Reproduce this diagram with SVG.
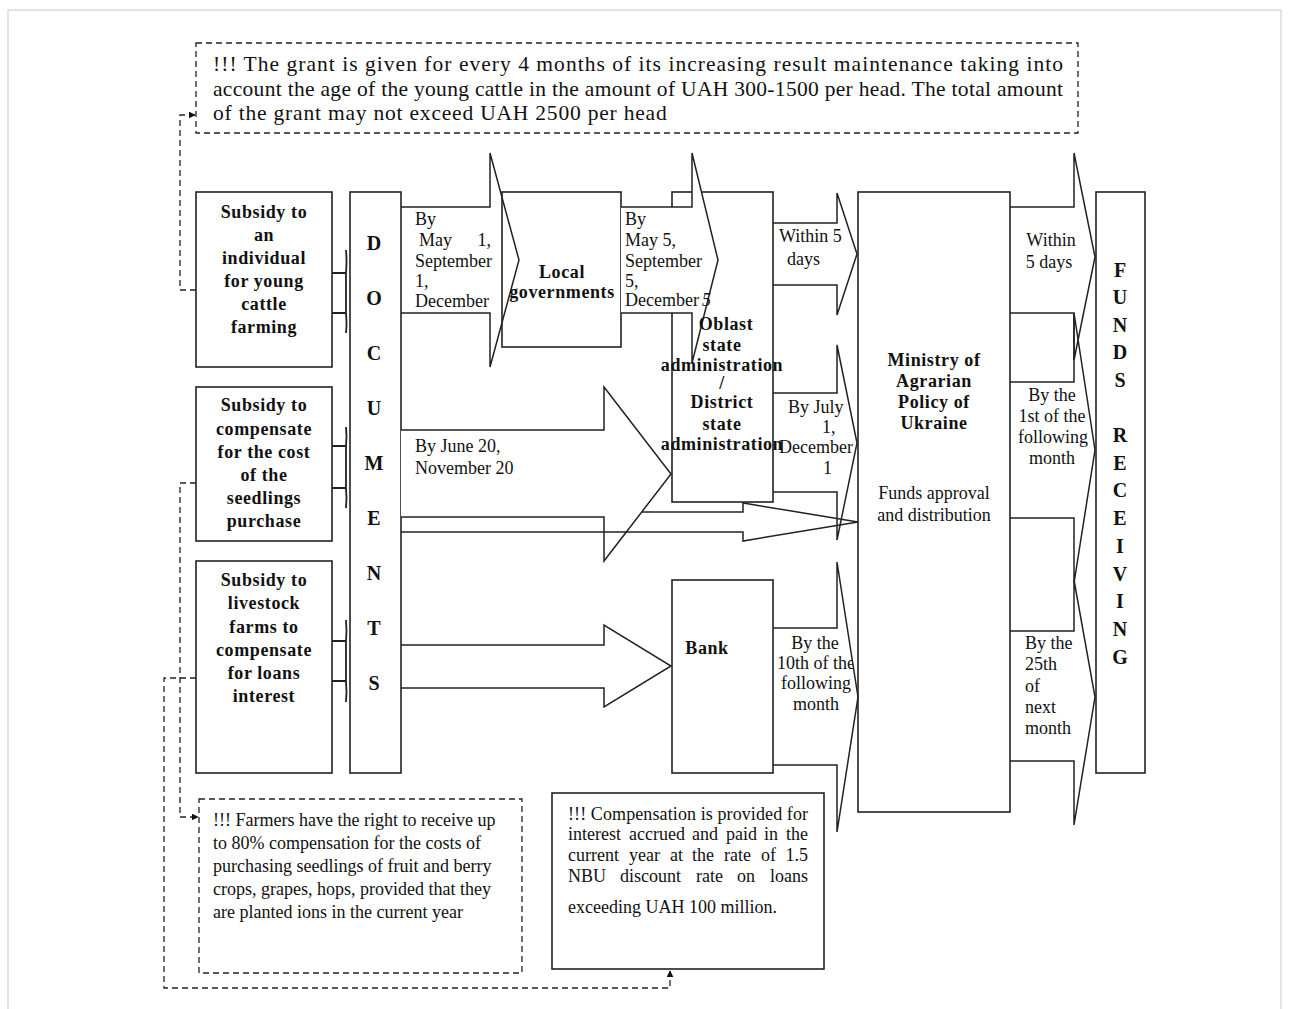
<svg xmlns="http://www.w3.org/2000/svg" width="1289" height="1009" viewBox="0 0 1289 1009">
<style>
.box{fill:#fff;stroke:#222;stroke-width:1.6}
.open{fill:none;stroke:#222;stroke-width:1.6}
.arw{fill:#fff;stroke:#222;stroke-width:1.5;stroke-linejoin:miter}
.arwn{fill:none;stroke:#222;stroke-width:1.5}
.dash{fill:none;stroke:#222;stroke-width:1.3;stroke-dasharray:6 4}
.br{fill:none;stroke:#222;stroke-width:1.8}
text{font-family:"Liberation Serif","Times New Roman",serif;fill:#111}
.b{font-weight:bold;font-size:18px;letter-spacing:0.6px;text-anchor:middle}
.r{font-size:18px}
.rc{font-size:18px;text-anchor:middle}
.big{font-weight:bold;font-size:20px;text-anchor:middle}
.note{font-size:21.5px}
.sn{font-size:18px}
</style>
<defs>
<marker id="ah" viewBox="0 0 10 10" refX="9" refY="5" markerWidth="7" markerHeight="7" markerUnits="userSpaceOnUse" orient="auto">
<path d="M0,0 L10,5 L0,10 z" fill="#111"/>
</marker>
<clipPath id="clipMid"><rect x="770" y="380" width="83" height="340"/></clipPath>
</defs>
<rect x="8" y="10" width="1273" height="1010" fill="none" stroke="#dcdcdc" stroke-width="1.5"/>

<g id="connectors">
<path class="arw" d="M401,207 H490 V153 L519,260 L490,367 V313 H401"/>
<path class="arw" d="M401,645 H604 V625 L671,666 L604,707 V688 H401"/>
<path class="arwn" d="M773,223 H837 V193 L857,254 L837,315 V285 H773"/>
<path class="arwn" d="M773,393 H837 V345 L857,443 L837,540 V492 H773"/>
<path class="arwn" d="M773,628 H837 V562 L858,697 L837,832 V765 H773"/>
<path class="arwn" d="M1010,207 H1074 V153 L1095,257 L1074,360 V313 H1010"/>
<path class="arwn" d="M1010,382 H1074 V313 L1095,450 L1074,583 V518 H1010"/>
<path class="arwn" d="M1010,631 H1074 V580 L1095,697 L1074,825 V761 H1010"/>
<path class="br" d="M346,250 Q347,262 346,273 V313 Q347,324 346,333 M332,273 H346 M332,313 H346"/>
<path class="br" d="M346,427 Q347,437 346,446 V488 Q347,498 346,508 M332,446 H346 M332,488 H346"/>
<path class="br" d="M346,620 Q347,631 346,641 V681 Q347,692 346,702 M332,641 H346 M332,681 H346"/>
<path class="dash" d="M196,290 H180 V115 H195" marker-end="url(#ah)"/>
<path class="dash" d="M196,483 H180 V817 H198" marker-end="url(#ah)"/>
<path class="dash" d="M196,678 H164 V988 H670 V971" marker-end="url(#ah)"/>
</g>

<g id="node-top-note">
<rect x="196" y="43" width="882" height="90" fill="none" stroke="#222" stroke-width="1.3" stroke-dasharray="6 4"/>
<text class="note" x="213" y="71" textLength="850" lengthAdjust="spacing">!!! The grant is given for every 4 months of its increasing result maintenance taking into</text>
<text class="note" x="213" y="96" textLength="850" lengthAdjust="spacing">account the age of the young cattle in the amount of UAH 300-1500 per head. The total amount</text>
<text class="note" x="213" y="120" letter-spacing="0.8">of the grant may not exceed UAH 2500 per head</text>
</g>

<g id="node-subsidy-cattle">
<rect class="box" x="196" y="192" width="136" height="175"/>
<text class="b" x="264" y="218">Subsidy to</text>
<text class="b" x="264" y="241">an</text>
<text class="b" x="264" y="264">individual</text>
<text class="b" x="264" y="287">for young</text>
<text class="b" x="264" y="310">cattle</text>
<text class="b" x="264" y="333">farming</text>
</g>

<g id="node-subsidy-seedlings">
<rect class="box" x="196" y="387" width="136" height="154"/>
<text class="b" x="264" y="411">Subsidy to</text>
<text class="b" x="264" y="435">compensate</text>
<text class="b" x="264" y="458">for the cost</text>
<text class="b" x="264" y="481">of the</text>
<text class="b" x="264" y="504">seedlings</text>
<text class="b" x="264" y="527">purchase</text>
</g>

<g id="node-subsidy-livestock">
<rect class="box" x="196" y="561" width="136" height="212"/>
<text class="b" x="264" y="586">Subsidy to</text>
<text class="b" x="264" y="609">livestock</text>
<text class="b" x="264" y="633">farms to</text>
<text class="b" x="264" y="656">compensate</text>
<text class="b" x="264" y="679">for loans</text>
<text class="b" x="264" y="702">interest</text>
</g>

<g id="node-documents">
<rect class="box" x="350" y="192" width="51" height="581"/>
<text class="big" x="374" y="250">D</text>
<text class="big" x="374" y="305">O</text>
<text class="big" x="374" y="360">C</text>
<text class="big" x="374" y="415">U</text>
<text class="big" x="374" y="470">M</text>
<text class="big" x="374" y="525">E</text>
<text class="big" x="374" y="580">N</text>
<text class="big" x="374" y="635">T</text>
<text class="big" x="374" y="690">S</text>
</g>

<g id="label-arrow1">
<text class="r" x="415" y="225">By</text>
<text class="r" x="419" y="246">May</text>
<text class="r" x="491" y="246" text-anchor="end">1,</text>
<text class="r" x="415" y="267">September</text>
<text class="r" x="415" y="287">1,</text>
<text class="r" x="415" y="307">December</text>
</g>

<g id="node-local-governments">
<rect class="open" x="502" y="192" width="119" height="155"/>
<text class="b" x="562" y="278" letter-spacing="0.2">Local</text>
<text class="b" x="562" y="298" font-size="17" letter-spacing="0.2">governments</text>
</g>

<g id="node-oblast">
<rect class="box" x="672" y="192" width="101" height="310"/>
</g>
<path class="arw" d="M621,207 H692 V153 L718,260 L692,363 V313 H621"/>
<g id="label-arrow2">
<text class="r" x="625" y="225">By</text>
<text class="r" x="625" y="246">May 5,</text>
<text class="r" x="625" y="267">September</text>
<text class="r" x="625" y="287">5,</text>
<text class="r" x="625" y="306">December</text>
<text class="r" x="702" y="306" fill="#e00000" font-style="italic">5</text>
</g>
<g id="node-oblast-label">
<text class="b" x="726" y="330" font-size="17">Oblast</text>
<text class="b" x="722" y="351" font-size="17">state</text>
<text class="b" x="722" y="371" font-size="15.5" letter-spacing="0">administration</text>
<text class="b" x="722" y="389" font-size="15">/</text>
<text class="b" x="722" y="408" font-size="17">District</text>
<text class="b" x="722" y="430" font-size="17">state</text>
<text class="b" x="722" y="450" font-size="15.5" letter-spacing="0">administration</text>
</g>

<g id="connector-overlap">
<path class="arw" d="M401,430 H604 V387 L671,474 L604,561 V517 H401"/>
<path class="arwn" d="M642,512 H743 V503 L858,522 L743,541 V532 H401"/>
</g>

<g id="label-arrow3">
<text class="r" x="415" y="452">By June 20,</text>
<text class="r" x="415" y="474">November 20</text>
</g>

<g id="node-bank">
<rect class="box" x="672" y="580" width="101" height="193"/>
<text class="b" x="707" y="654" letter-spacing="0.3">Bank</text>
</g>

<g id="labels-to-ministry">
<text class="r" x="779" y="242">Within 5</text>
<text class="r" x="787" y="265">days</text>
<g clip-path="url(#clipMid)">
<text class="r" x="788" y="413">By July</text>
<text class="r" x="822" y="433">1,</text>
<text class="r" x="779" y="453">December</text>
<text class="r" x="823" y="474">1</text>
<text class="rc" x="815" y="649">By the</text>
<text class="r" x="777" y="669">10th of the</text>
<text class="rc" x="816" y="689">following</text>
<text class="rc" x="816" y="710">month</text>
</g>
</g>

<g id="node-ministry">
<rect class="open" x="858" y="192" width="152" height="620"/>
<text class="b" x="934" y="366">Ministry of</text>
<text class="b" x="934" y="387">Agrarian</text>
<text class="b" x="934" y="408">Policy of</text>
<text class="b" x="934" y="429">Ukraine</text>
<text class="rc" x="934" y="499">Funds approval</text>
<text class="rc" x="934" y="521">and distribution</text>
</g>

<g id="labels-to-funds">
<text class="rc" x="1051" y="246">Within</text>
<text class="rc" x="1049" y="268">5 days</text>
<text class="rc" x="1052" y="401">By the</text>
<text class="rc" x="1052" y="422">1st of the</text>
<text class="rc" x="1053" y="443">following</text>
<text class="rc" x="1052" y="464">month</text>
<text class="r" x="1025" y="649">By the</text>
<text class="r" x="1025" y="670">25th</text>
<text class="r" x="1025" y="692">of</text>
<text class="r" x="1025" y="713">next</text>
<text class="r" x="1025" y="734">month</text>
</g>

<g id="node-funds-receiving">
<rect class="box" x="1096" y="192" width="49" height="581"/>
<text class="big" x="1120" y="277">F</text>
<text class="big" x="1120" y="304">U</text>
<text class="big" x="1120" y="332">N</text>
<text class="big" x="1120" y="359">D</text>
<text class="big" x="1120" y="387">S</text>
<text class="big" x="1120" y="442">R</text>
<text class="big" x="1120" y="470">E</text>
<text class="big" x="1120" y="497">C</text>
<text class="big" x="1120" y="525">E</text>
<text class="big" x="1120" y="553">I</text>
<text class="big" x="1120" y="581">V</text>
<text class="big" x="1120" y="608">I</text>
<text class="big" x="1120" y="636">N</text>
<text class="big" x="1120" y="664">G</text>
</g>

<g id="node-farmers-note">
<rect x="199" y="799" width="323" height="174" fill="none" stroke="#222" stroke-width="1.3" stroke-dasharray="6 4"/>
<text class="sn" x="213" y="826">!!! Farmers have the right to receive up</text>
<text class="sn" x="213" y="849">to 80% compensation for the costs of</text>
<text class="sn" x="213" y="872">purchasing seedlings of fruit and berry</text>
<text class="sn" x="213" y="895">crops, grapes, hops, provided that they</text>
<text class="sn" x="213" y="918">are planted ions in the current year</text>
</g>

<g id="node-compensation-note">
<rect class="box" x="552" y="793" width="272" height="176"/>
<text class="sn" x="568" y="820" textLength="240" lengthAdjust="spacing">!!! Compensation is provided for</text>
<text class="sn" y="840"><tspan x="568">interest</tspan><tspan x="629">accrued</tspan><tspan x="692">and</tspan><tspan x="726">paid</tspan><tspan x="764">in</tspan><tspan x="808" text-anchor="end">the</tspan></text>
<text class="sn" y="861"><tspan x="568">current</tspan><tspan x="629">year</tspan><tspan x="670">at</tspan><tspan x="692">the</tspan><tspan x="724">rate</tspan><tspan x="761">of</tspan><tspan x="808" text-anchor="end">1.5</tspan></text>
<text class="sn" y="882"><tspan x="568">NBU</tspan><tspan x="620">discount</tspan><tspan x="696">rate</tspan><tspan x="737">on</tspan><tspan x="808" text-anchor="end">loans</tspan></text>
<text class="sn" x="568" y="913">exceeding UAH 100 million.</text>
</g>
</svg>
